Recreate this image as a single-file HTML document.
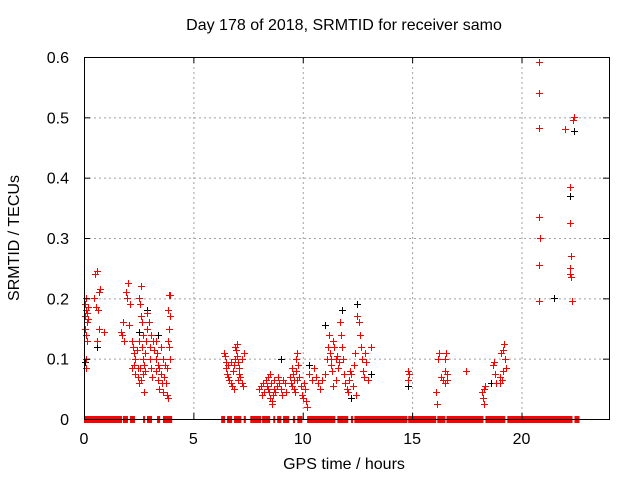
<!DOCTYPE html>
<html><head><meta charset="utf-8"><style>
body{margin:0;background:#fff}
svg{display:block;font-family:"Liberation Sans",sans-serif}
</style></head><body>
<svg id="c" width="640" height="480" xmlns="http://www.w3.org/2000/svg"></svg>
<script>
const xTicks=[0,5,10,15,20];
const yTicks=[0,0.1,0.2,0.3,0.4,0.5,0.6];
const yTickLabels=["0","0.1","0.2","0.3","0.4","0.5","0.6"];
const zeroRanges=[[0,1.74],[1.78,2.01],[2.1,2.33],[2.7,2.75],[2.88,3.11],[3.34,3.48],[3.61,4.03],[6.27,6.45],[6.54,6.77],[6.86,7.19],[7.3,7.4],[7.6,8.1],[8.14,8.51],[8.65,8.72],[8.83,9.02],[9.1,9.38],[9.55,9.65],[9.75,9.98],[10.2,11.49],[11.58,12.08],[12.2,12.3],[12.36,14.78],[14.82,16.1],[16.15,16.52],[16.57,18.26],[18.35,19.26],[19.35,22.33],[22.42,22.65]];
const redT=[0.05,0.08,0.1,0.05,0.12,0.15,0.05,0.1,0.15,0.08,0.1,0.18,0.2,0.5,0.6,0.55,0.45,0.7,0.75,0.65,0.7,0.9,0.6,
1.7,1.75,1.8,1.9,2.0,1.95,2.1,2.05,1.85,
2.2,2.25,2.3,2.35,2.3,2.4,2.45,2.5,2.5,2.55,2.6,2.6,2.65,2.7,2.65,2.7,2.75,2.8,2.8,2.85,2.9,2.9,2.95,3.0,3.0,3.05,3.1,2.6,2.7,2.5,2.75,2.55,2.35,2.45,2.2,3.05,
3.3,3.35,3.4,3.45,3.5,3.5,3.55,3.6,3.6,3.65,3.3,3.4,3.45,3.7,3.8,3.85,3.75,3.9,3.95,3.85,3.95,3.9,3.85,3.9,3.95,3.8,3.3,3.2,3.15,
6.4,6.45,6.5,6.5,6.55,6.6,6.65,6.7,6.75,6.8,6.85,6.9,6.9,6.95,7.0,7.0,7.05,7.1,7.1,7.15,7.2,7.25,7.2,7.3,6.7,6.6,7.05,6.85,
8.0,8.1,8.15,8.2,8.3,8.35,8.4,8.45,8.5,8.5,8.55,8.6,8.65,8.7,8.7,8.75,8.8,8.85,8.9,9.0,9.1,9.2,9.25,8.25,8.6,8.4,9.05,
9.4,9.45,9.5,9.5,9.55,9.6,9.6,9.65,9.7,9.7,9.75,9.8,9.85,9.9,9.95,10.0,10.05,10.1,10.15,10.2,9.75,
10.3,10.4,10.5,10.6,10.7,10.8,10.9,11.0,
11.1,11.15,11.2,11.25,11.3,11.3,11.35,11.4,11.45,11.5,11.5,11.55,11.6,11.65,11.7,11.75,11.8,11.85,11.9,11.95,12.0,12.05,12.1,12.15,12.2,11.4,
12.3,12.35,12.4,12.5,12.55,12.6,12.65,12.7,12.75,12.8,12.85,12.9,13.0,13.1,12.45,
14.8,14.85,14.8,
16.1,16.15,16.2,16.25,16.3,16.4,16.5,16.5,16.55,16.6,16.6,16.5,
17.45,
18.2,18.25,18.3,18.3,18.35,18.7,18.75,18.8,18.85,19.0,19.05,19.1,19.15,19.2,19.25,19.3,19.15,19.0,
20.8,20.8,20.8,20.8,20.85,20.8,20.8,22.0,22.35,22.4,22.2,22.2,22.25,22.2,22.2,22.25,22.3];
const redV=[.19,.2,.18,.17,.175,.16,.15,.14,.13,.1,.085,.185,.165,.24,.245,.185,.2,.21,.215,.18,.15,.145,.13,
.145,.14,.16,.21,.225,.2,.19,.155,.13,
.13,.12,.11,.1,.09,.115,.085,.13,.2,.19,.22,.17,.16,.14,.12,.1,.09,.08,.11,.13,.15,.175,.16,.12,.1,.085,.07,.065,.075,.06,.045,.085,.075,.07,.085,.14,
.13,.11,.09,.085,.075,.12,.06,.1,.045,.07,.08,.065,.05,.09,.04,.035,.06,.205,.205,.18,.17,.15,.13,.12,.1,.085,.1,.115,.13,
.11,.105,.095,.085,.075,.07,.065,.06,.055,.08,.09,.1,.12,.115,.125,.105,.095,.085,.075,.07,.06,.055,.1,.11,.095,.09,.065,.05,
.05,.055,.04,.06,.065,.055,.05,.045,.035,.075,.06,.03,.04,.05,.065,.045,.055,.07,.06,.05,.065,.06,.045,.045,.025,.07,.04,
.07,.06,.055,.085,.075,.05,.065,.045,.08,.1,.11,.09,.07,.055,.04,.035,.06,.05,.03,.02,.065,
.075,.065,.085,.07,.06,.05,.065,.075,
.1,.12,.14,.11,.1,.09,.08,.13,.12,.1,.065,.105,.085,.095,.16,.14,.12,.1,.075,.06,.05,.045,.065,.08,.075,.055,
.055,.09,.11,.17,.16,.14,.12,.1,.08,.07,.11,.095,.065,.12,.04,
.08,.075,.065,
.045,.025,.1,.11,.07,.065,.08,.1,.11,.075,.065,.06,
.08,
.045,.035,.05,.025,.055,.09,.095,.075,.06,.07,.11,.065,.115,.125,.1,.085,.08,.06,
.592,.54,.482,.335,.3,.255,.195,.48,.495,.5,.385,.325,.27,.25,.24,.235,.195];
const blackT=[0.6,0.05,2.5,2.9,3.4,7.0,11.0,11.8,12.5,12.2,14.8,21.5,22.2,22.4,9.0,13.1,18.6,10.3];
const blackV=[.12,.095,.145,.18,.14,.125,.155,.18,.19,.035,.055,.2,.37,.478,.1,.075,.06,.09];

const X0=84,X1=609,Y0=419,Y1=57,XMAX=24,YMAX=0.6;
const sx=t=>X0+t/XMAX*(X1-X0);
const sy=v=>Y0-v/YMAX*(Y0-Y1);
const svg=document.getElementById('c');
const NS='http://www.w3.org/2000/svg';
function mk(tag,attrs,parent){const e=document.createElementNS(NS,tag);for(const k in attrs)e.setAttribute(k,attrs[k]);(parent||svg).appendChild(e);return e;}

const grid=mk('g',{stroke:'#a0a0a0','stroke-dasharray':'2,3','stroke-width':1});


yTicks.forEach(v=>{if(v>0&&v<YMAX)mk('line',{x1:X0,x2:X1,y1:sy(v)+.5,y2:sy(v)+.5},grid);});
xTicks.forEach(t=>{if(t>0)mk('line',{x1:sx(t)+.5,x2:sx(t)+.5,y1:Y1,y2:Y0},grid);});

const zb=mk('g',{fill:'#ff0000'});


zeroRanges.forEach(r=>{mk('rect',{x:sx(r[0]),y:Y0-3,width:Math.max(2,sx(r[1])-sx(r[0])),height:7},zb);});

function plus(g,t,v,col){const x=Math.round(sx(t))+.5,y=Math.round(sy(v))+.5;
 mk('path',{d:`M${x-3.5} ${y}H${x+3.5}M${x} ${y-3.5}V${y+3.5}`,stroke:col,'stroke-width':1,fill:'none'},g);}
const bg=mk('g',{});


blackT.forEach((t,i)=>plus(bg,t,blackV[i],'#000000'));
const rg=mk('g',{});


redT.forEach((t,i)=>plus(rg,t,redV[i],'#ff0000'));

const fr=mk('rect',{x:X0+.5,y:Y1+.5,width:X1-X0,height:Y0-Y1,fill:'none',stroke:'#000','stroke-width':1});


const xa=mk('line',{x1:X0,x2:X1+1,y1:Y0+.5,y2:Y0+.5,stroke:'#000','stroke-width':1});


const tk=mk('g',{stroke:'#000','stroke-width':1});


yTicks.forEach(v=>{const y=sy(v)+.5;mk('line',{x1:X0,x2:X0+6,y1:y,y2:y},tk);mk('line',{x1:X1-6,x2:X1,y1:y,y2:y},tk);});
xTicks.forEach(t=>{const x=sx(t)+.5;mk('line',{x1:x,x2:x,y1:Y0,y2:Y0-6},tk);mk('line',{x1:x,x2:x,y1:Y1,y2:Y1+6},tk);});

const lab=mk('g',{'font-size':'16px',fill:'#000'});
yTicks.forEach((v,i)=>{const e=mk('text',{x:69,y:sy(v)+6,'text-anchor':'end'},lab);e.textContent=yTickLabels[i];
 
 });
xTicks.forEach(t=>{const e=mk('text',{x:sx(t),y:444,'text-anchor':'middle'},lab);e.textContent=String(t);
 
 });
</script>
<div style="position:absolute;left:0;top:0;width:640px;height:480px;pointer-events:none;font-family:'Liberation Sans',sans-serif;font-size:16px">
<div style="position:absolute;left:0;width:688px;top:17px;text-align:center">Day 178 of 2018, SRMTID for receiver samo</div>
<div style="position:absolute;left:0;width:688px;top:456px;text-align:center">GPS time / hours</div>
<div style="position:absolute;left:-85px;top:229px;width:200px;text-align:center;transform:rotate(-90deg)">SRMTID / TECUs</div>
</div>
</body></html>
